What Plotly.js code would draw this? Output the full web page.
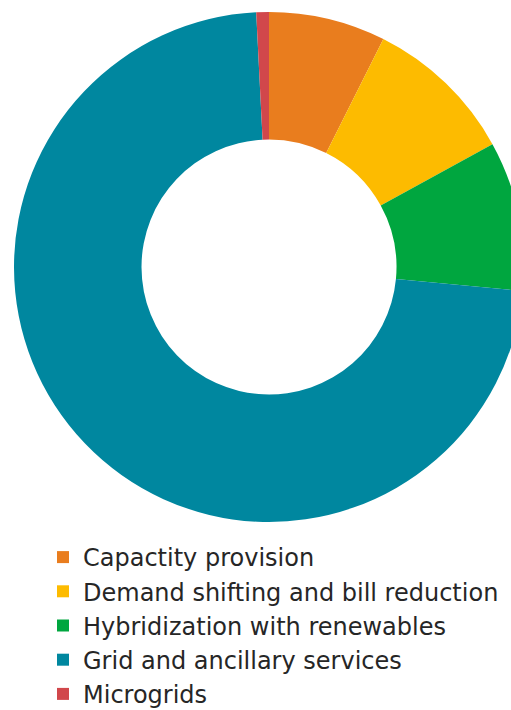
<!DOCTYPE html>
<html><head><meta charset="utf-8">
<script src="https://cdn.plot.ly/plotly-3.0.1.min.js"></script>
<style>html,body{margin:0;padding:0;overflow:hidden;background:#fff}</style>
</head><body><div id="chart"></div>
<script>
var categories = ["Capactity provision", "Demand shifting and bill reduction", "Hybridization with renewables", "Grid and ancillary services", "Microgrids"];
var shares = [7.4, 9.6, 9.5, 72.7, 0.8];
var colors = ["#E97D1E", "#FDBB00", "#00A63F", "#00879F", "#D1474B"];

var W = 540, H = 740;
var plotH = H - 12;
var trace = {
  type: "pie",
  labels: categories,
  values: shares,
  marker: {colors: colors, line: {width: 0}},
  hole: 0.5,
  sort: false,
  direction: "clockwise",
  rotation: 0,
  textinfo: "none",
  hoverinfo: "none",
  domain: {x: [0, 1], y: [1 - 510/plotH, 1]}
};
var layout = {
  width: W, height: H,
  margin: {l: 14, r: 16, t: 12, b: 0, pad: 0},
  paper_bgcolor: "#fff",
  font: {family: "DejaVu Sans, sans-serif", color: "#262626", size: 24},
  showlegend: true,
  legend: {
    orientation: "v", x: (43 - 14)/510, xanchor: "left", y: (H - 535)/plotH, yanchor: "top",
    font: {size: 24, color: "#262626"}, traceorder: "normal", bgcolor: "rgba(0,0,0,0)",
    itemclick: false
  }
};
Plotly.newPlot("chart", [trace], layout, {staticPlot: true, displayModeBar: false});
</script></body></html>
